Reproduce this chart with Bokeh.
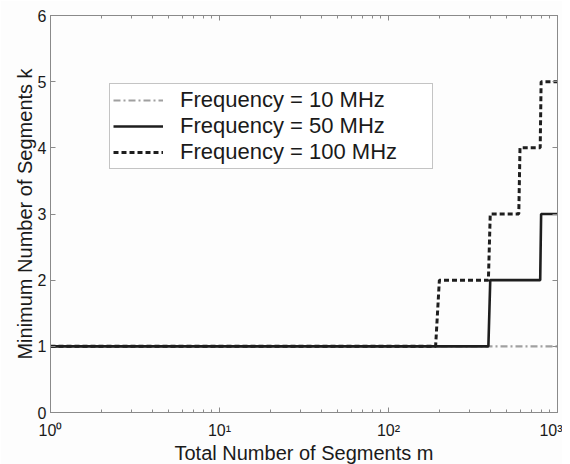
from bokeh.plotting import figure
from bokeh.models import (Legend, LegendItem, LogAxis, LinearAxis, FixedTicker,
                          LogTicker, Range1d, CustomJSTickFormatter)
from bokeh.embed import file_html
from bokeh.resources import INLINE

# ---- data ----
m_10 = [1, 1000]
k_10 = [1, 1]
m_50 = [1, 390, 400, 790, 800, 1000]
k_50 = [1, 1, 2, 2, 3, 3]
m_100 = [1, 190, 200, 390, 400, 590, 600, 790, 800, 1000]
k_100 = [1, 1, 2, 2, 3, 3, 4, 4, 5, 5]
series_labels = ["Frequency = 10 MHz", "Frequency = 50 MHz", "Frequency = 100 MHz"]
y_ticks = [0, 1, 2, 3, 4, 5, 6]
x_tick_labels = {1: "10\u2070", 10: "10\u00b9", 100: "10\u00b2", 1000: "10\u00b3"}

FONT = "Liberation Sans"
AXIS_COLOR = "#8a8a8a"
TEXT_COLOR = "#1a1a1a"

p = figure(frame_width=507, frame_height=397, x_axis_type="log",
           x_range=Range1d(1, 1000), y_range=Range1d(0, 6),
           output_backend="svg", toolbar_location=None,
           min_border_left=50, min_border_right=5,
           min_border_top=15, min_border_bottom=44)
p.background_fill_color = "#fdfdfd"
p.border_fill_color = "#fdfdfd"
p.outline_line_color = AXIS_COLOR
p.xgrid.visible = False
p.ygrid.visible = False

r10 = p.line(m_10, k_10, line_color="#a0a0a0", line_width=2.2, line_dash="7 3 2 3")
r50 = p.line(m_50, k_50, line_color="#1e1e1e", line_width=2.6)
r100 = p.line(m_100, k_100, line_color="#1e1e1e", line_width=3, line_dash="5 3")

# bottom axis
xa = p.xaxis[0]
xa.ticker = LogTicker(num_minor_ticks=10)
xa.major_label_overrides = x_tick_labels
xa.axis_label = "Total Number of Segments m"
# left axis
ya = p.yaxis[0]
ya.ticker = FixedTicker(ticks=y_ticks)
ya.axis_label = "Minimum Number of Segments k"

for ax in (xa, ya):
    ax.axis_line_color = AXIS_COLOR
    ax.major_tick_line_color = AXIS_COLOR
    ax.minor_tick_line_color = AXIS_COLOR
    ax.major_tick_in = 5
    ax.major_tick_out = 0
    ax.minor_tick_in = 3
    ax.minor_tick_out = 0
    ax.major_label_text_font = FONT
    ax.major_label_text_font_size = "16px"
    ax.major_label_text_color = TEXT_COLOR
    ax.axis_label_text_font = FONT
    ax.axis_label_text_font_size = "20px"
    ax.axis_label_text_font_style = "normal"
    ax.axis_label_text_color = TEXT_COLOR
ya.minor_tick_line_color = None
xa.major_label_standoff = 9
xa.axis_label_standoff = 0
ya.major_label_standoff = 4
ya.axis_label_standoff = -1

# mirrored top/right axes (ticks only)
blank = CustomJSTickFormatter(code="return ''")
top = LogAxis(ticker=LogTicker(num_minor_ticks=10), formatter=blank)
right = LinearAxis(ticker=FixedTicker(ticks=y_ticks), formatter=blank)
for ax in (top, right):
    ax.axis_line_color = AXIS_COLOR
    ax.major_tick_line_color = AXIS_COLOR
    ax.minor_tick_line_color = AXIS_COLOR
    ax.major_tick_in = 5
    ax.major_tick_out = 0
    ax.minor_tick_in = 3
    ax.minor_tick_out = 0
    ax.major_label_text_font_size = "0px"
    ax.major_label_standoff = 0
right.minor_tick_line_color = None
p.add_layout(top, "above")
p.add_layout(right, "right")

legend = Legend(items=[LegendItem(label=series_labels[0], renderers=[r10]),
                       LegendItem(label=series_labels[1], renderers=[r50]),
                       LegendItem(label=series_labels[2], renderers=[r100])],
                location=(59, 243))
legend.label_text_font = FONT
legend.label_text_font_size = "22px"
legend.label_text_color = TEXT_COLOR
legend.label_height = 22
legend.glyph_height = 22
legend.glyph_width = 50
legend.label_standoff = 17
legend.label_width = 249
legend.padding = 3
legend.spacing = 0
legend.margin = 0
legend.border_line_color = "#8a8a8a"
legend.border_line_width = 1
legend.background_fill_color = "#ffffff"
legend.background_fill_alpha = 1.0
p.add_layout(legend)

open("out.html", "w").write(file_html(p, INLINE))
